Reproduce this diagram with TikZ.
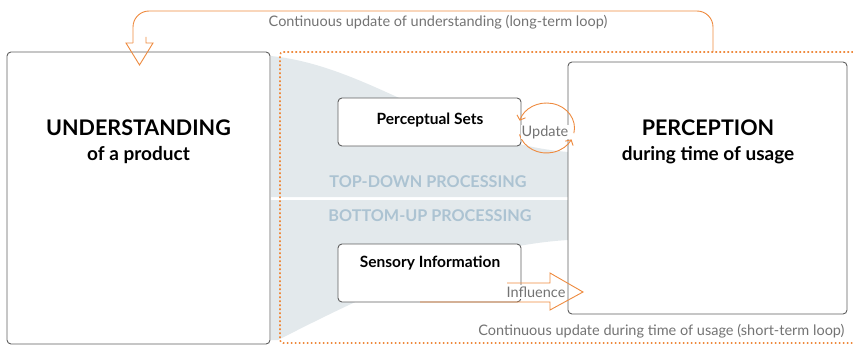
\documentclass[tikz,border=0pt]{standalone}
\usepackage{fontspec}
\setmainfont{Lato}
\usetikzlibrary{arrows.meta}
\definecolor{orng}{RGB}{238,138,62}
\definecolor{boxline}{RGB}{95,95,95}
\definecolor{looptext}{RGB}{115,115,115}
\definecolor{proctext}{RGB}{172,195,210}
\definecolor{procfill}{RGB}{227,233,236}
\begin{document}
\begin{tikzpicture}[x=1pt,y=-1pt,
  box/.style={draw=boxline, line width=0.9pt, rounded corners=4pt, fill=white, inner sep=0pt},
  bigtext/.style={font=\fontsize{21.5}{24}\selectfont\bfseries, text=black, inner sep=0pt},
  subtext/.style={font=\fontsize{19}{22}\selectfont\bfseries, text=black, inner sep=0pt},
  midtext/.style={font=\fontsize{15.5}{18}\selectfont\bfseries, text=black},
  loopt/.style={font=\fontsize{14.5}{17}\selectfont, text=looptext},
  proct/.style={font=\fontsize{16.2}{19}\selectfont\bfseries, text=proctext},
  orline/.style={draw=orng, line width=0.9pt},
  dotline/.style={draw=orng, line width=1.6pt, dash pattern=on 1.6pt off 2.4pt},
  cyc/.style={orline, -{Straight Barb[length=4pt,width=9pt]}}
]
\useasboundingbox (0,0) rectangle (853,345);

% processing bands
\fill[procfill] (271,56) .. controls (370,66) and (450,142) .. (568,152) -- (568,197) -- (271,197) -- cycle;
\fill[procfill] (271,200) -- (568,200) -- (568,240) .. controls (470,246) and (380,288) .. (278,340) -- (271,340) -- cycle;

% short-term loop frame
\coordinate (fr1) at (853,52);
\coordinate (fr2) at (280,52);
\coordinate (fr3) at (280,343);
\coordinate (fr4) at (853,343);
\draw[dotline, rounded corners=3pt] (fr1) -- (fr2) -- (fr3) -- (fr4);

% main boxes
\node[box, minimum width=263pt, minimum height=292pt] (und) at (138.5,198) {};
\node[box, minimum width=279pt, minimum height=252pt] (per) at (707.5,188) {};
\node[bigtext] (undt) at (138.5,128) {UNDERSTANDING};
\node[subtext] (unds) at (138.5,155) {of a product};
\node[bigtext] (pert) at (708,128) {PERCEPTION};
\node[subtext] (pers) at (708,155) {during time of usage};

% inner boxes
\node[box, minimum width=183pt, minimum height=48pt] (ps) at (429.5,122) {};
\node[midtext] (pst) at (430,120) {Perceptual Sets};
\node[box, minimum width=183pt, minimum height=58pt] (si) at (429.5,273) {};
\node[midtext] (sit) at (430,263) {Sensory Information};

% processing labels
\node[proct] (td) at (428,182) {TOP-DOWN PROCESSING};
\node[proct] (bu) at (430,216) {BOTTOM-UP PROCESSING};

% update cycle
\coordinate (uc) at (546.5,128);
\draw[cyc] (uc) ++(12:28 and 25) arc[start angle=12, end angle=-163, x radius=28, y radius=25];
\draw[cyc] (uc) ++(-195:28 and 25) arc[start angle=-195, end angle=-333, x radius=28, y radius=25];
\node[loopt, fill=white, inner sep=0.5pt] (upd) at (545,132) {Update};

% influence arrow
\node[loopt, fill=white, inner sep=1.5pt] (inf) at (536,292) {Influence};
\coordinate (ia1) at (507,283);
\coordinate (ia2) at (550,283);
\coordinate (ia3) at (550,273);
\coordinate (ia4) at (583,292);
\coordinate (ia5) at (550,310);
\coordinate (ia6) at (550,302);
\coordinate (ia7) at (420,302);
\draw[orline] (ia1) -- (ia2) -- (ia3) -- (ia4) -- (ia5) -- (ia6) -- (ia7);

% long-term loop
\coordinate (lt0) at (713,52);
\coordinate (lt1) at (713,11);
\coordinate (lt2) at (133,11);
\coordinate (lt3) at (133,43);
\coordinate (lh1) at (126,43);
\coordinate (lh2) at (139.5,65);
\coordinate (lh3) at (153,43);
\coordinate (lh4) at (146,43);
\coordinate (lh5) at (146,37);
\draw[orline, rounded corners=16pt] (lt0) -- (lt1) -- (lt2) -- (lt3);
\draw[orline] (lt3) -- (lh1) -- (lh2) -- (lh3) -- (lh4) -- (lh5);
\node[loopt] (ltt) at (438,22) {Continuous update of understanding (long-term loop)};
\node[loopt, anchor=east] (stt) at (848,331) {Continuous update during time of usage (short-term loop)};
\end{tikzpicture}
\end{document}
